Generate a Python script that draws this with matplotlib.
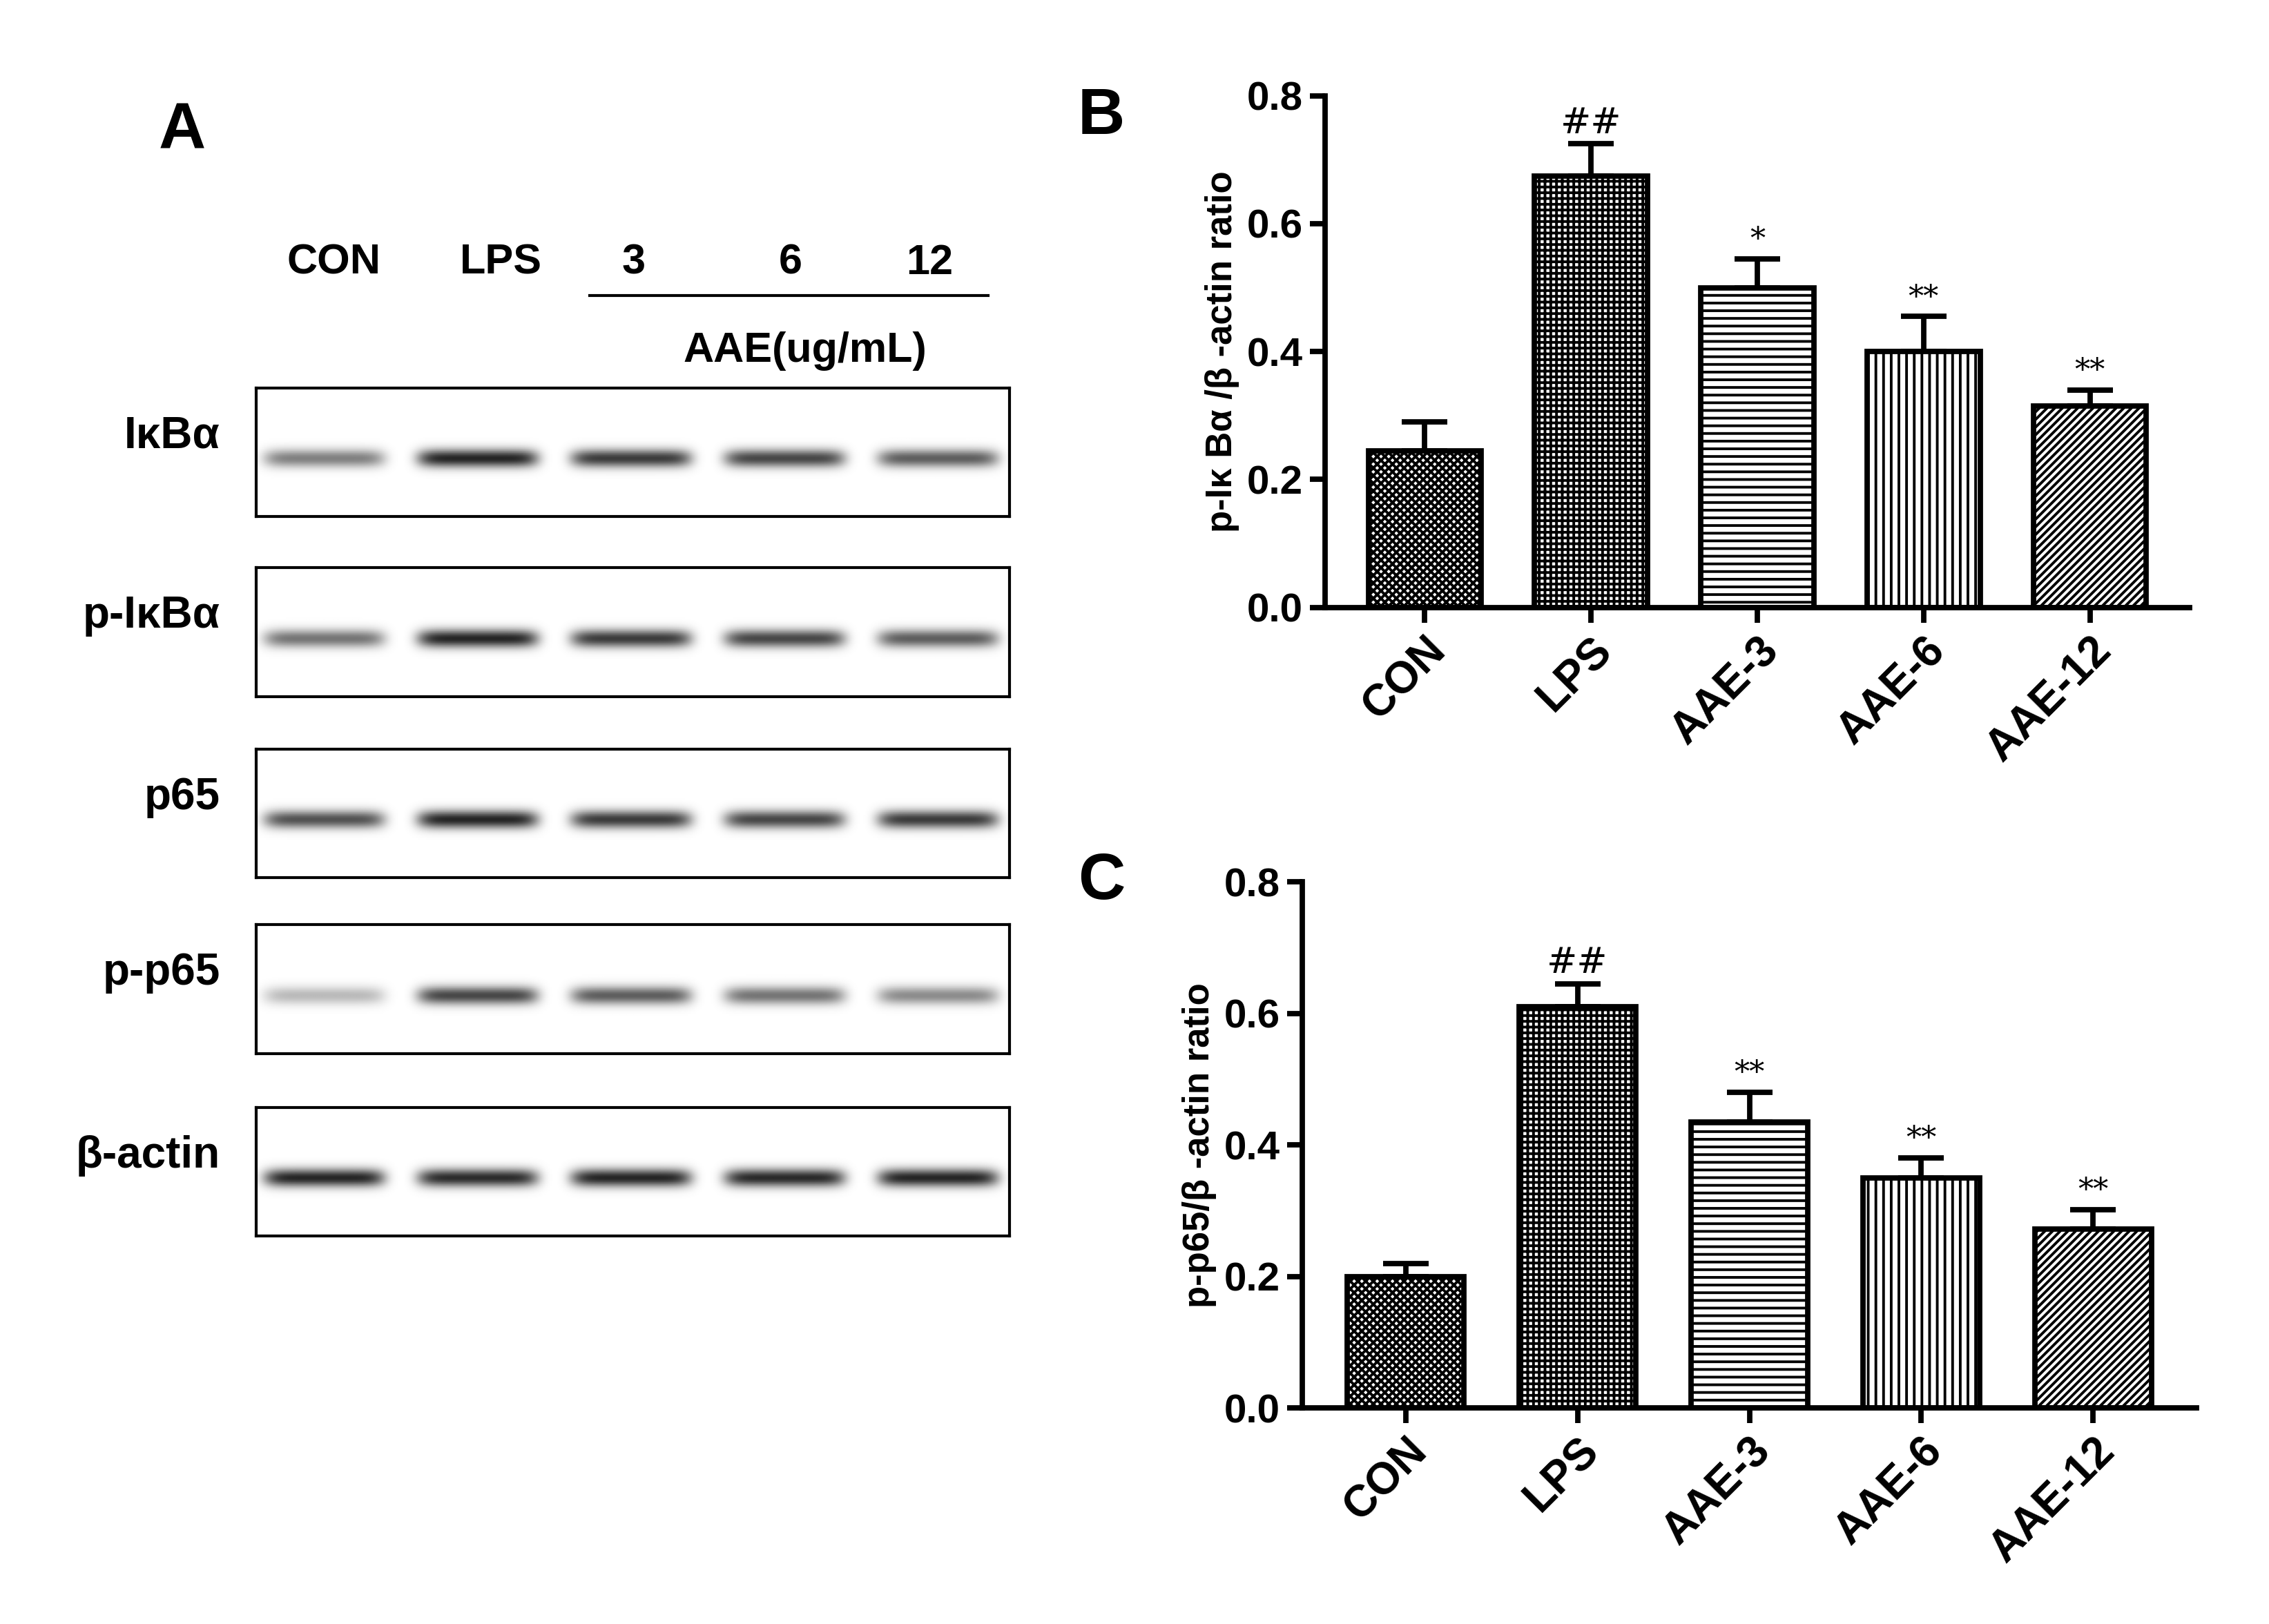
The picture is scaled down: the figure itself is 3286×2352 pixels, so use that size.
import numpy as np
import matplotlib
matplotlib.use("Agg")
import matplotlib.pyplot as plt

groups = ["CON", "LPS", "AAE-3", "AAE-6", "AAE-12"]
b_vals = [0.245, 0.675, 0.50, 0.40, 0.315]
b_err = [0.045, 0.05, 0.045, 0.055, 0.025]
b_sig = ["", "##", "*", "**", "**"]
c_vals = [0.20, 0.61, 0.435, 0.35, 0.272]
c_err = [0.02, 0.035, 0.045, 0.03, 0.03]
c_sig = ["", "##", "**", "**", "**"]
hatches = ["xxxxxx", "++++", "---", "|||", "//////"]

blot_rows = ["IκBα", "p-IκBα", "p65", "p-p65", "β-actin"]
band_int = [
    [0.55, 0.95, 0.85, 0.8, 0.7],
    [0.6, 0.95, 0.85, 0.8, 0.7],
    [0.75, 0.95, 0.85, 0.8, 0.85],
    [0.3, 0.8, 0.7, 0.6, 0.5],
    [0.95, 0.92, 0.95, 0.93, 0.95],
]
lanes = ["CON", "LPS", "3", "6", "12"]

plt.rcParams["font.family"] = ["Arial", "Liberation Sans", "DejaVu Sans"]
fig = plt.figure(figsize=(16.43, 11.76), dpi=200)

# panel A
H = 1110.0
def fy(y):
    return 1 - y / H
row_tops = [265, 388, 512, 632, 757]
for name, top, ints in zip(blot_rows, row_tops, band_int):
    ax = fig.add_axes([0.113, fy(top + 88), 0.332, 88 / H])
    xx = np.linspace(0, 5, 600)
    yy = np.linspace(0, 1, 120)
    X, Y = np.meshgrid(xx, yy)
    img = np.zeros_like(X)
    for i, v in enumerate(ints):
        cx = 0.45 + i * 1.02
        img += v * np.exp(-((X - cx) / 0.4) ** 8) * np.exp(-((Y - 0.55) / 0.07) ** 2)
    ax.imshow(1 - np.clip(img, 0, 1) * 0.9, cmap="gray", vmin=0, vmax=1,
              extent=[0, 5, 0, 1], aspect="auto")
    ax.set_xticks([]); ax.set_yticks([])
    for s in ax.spines.values():
        s.set_linewidth(1.5)
    fig.text(0.097, fy(top + 33), name, ha="right", va="center", fontsize=23, fontweight="bold")
fig.text(0.07, fy(90), "A", fontsize=34, fontweight="bold", va="center")
lane_x = [228, 342, 433, 540, 635]
for lx, lab in zip(lane_x, lanes):
    fig.text(lx / 1550, fy(180), lab, ha="center", va="center", fontsize=22, fontweight="bold")
fig.add_artist(plt.Line2D([403 / 1550, 675 / 1550], [fy(202), fy(202)], color="k", lw=1.5))
fig.text(550 / 1550, fy(240), "AAE(ug/mL)", ha="center", va="center", fontsize=22, fontweight="bold")

def bar_panel(rect, vals, errs, sigs, ylabel, letter, lpos):
    ax = fig.add_axes(rect)
    x = np.arange(len(groups))
    plt.rcParams["hatch.linewidth"] = 1.4
    for i in x:
        ax.bar(i, vals[i], width=0.68, color="white", edgecolor="black", lw=2.8,
               hatch=hatches[i], zorder=2)
        ax.errorbar(i, vals[i], yerr=[[0], [errs[i]]], color="k", capsize=12,
                    capthick=2.8, elinewidth=2.8, zorder=1)
        if sigs[i]:
            ax.text(i, vals[i] + errs[i] + 0.005, sigs[i], ha="center", va="bottom",
                    fontsize=19 if "#" in sigs[i] else 16, family="DejaVu Serif")
    ax.set_xlim(-0.6, 4.6)
    ax.set_ylim(0, 0.8)
    ax.set_yticks([0, 0.2, 0.4, 0.6, 0.8])
    ax.set_yticklabels(["0.0", "0.2", "0.4", "0.6", "0.8"])
    ax.set_xticks(x)
    ax.set_xticklabels(groups, rotation=45, ha="right", rotation_mode="anchor")
    for s in ["top", "right"]:
        ax.spines[s].set_visible(False)
    for s in ["left", "bottom"]:
        ax.spines[s].set_linewidth(2.8)
    ax.tick_params(width=2.8, length=8)
    ax.tick_params(axis="x", labelsize=23)
    ax.tick_params(axis="y", labelsize=21)
    for t in ax.get_xticklabels() + ax.get_yticklabels():
        t.set_fontweight("bold")
    ax.set_ylabel(ylabel, fontsize=19, fontweight="bold")
    fig.text(lpos[0], lpos[1], letter, fontsize=34, fontweight="bold", va="center")

bar_panel([0.584, 0.626, 0.381, 0.315], b_vals, b_err, b_sig,
          "p-Iκ Bα /β -actin ratio", "B", (0.475, fy(80)))
bar_panel([0.574, 0.133, 0.394, 0.324], c_vals, c_err, c_sig,
          "p-p65/β -actin ratio", "C", (0.475, fy(603)))

fig.savefig("out.png", dpi=200)
